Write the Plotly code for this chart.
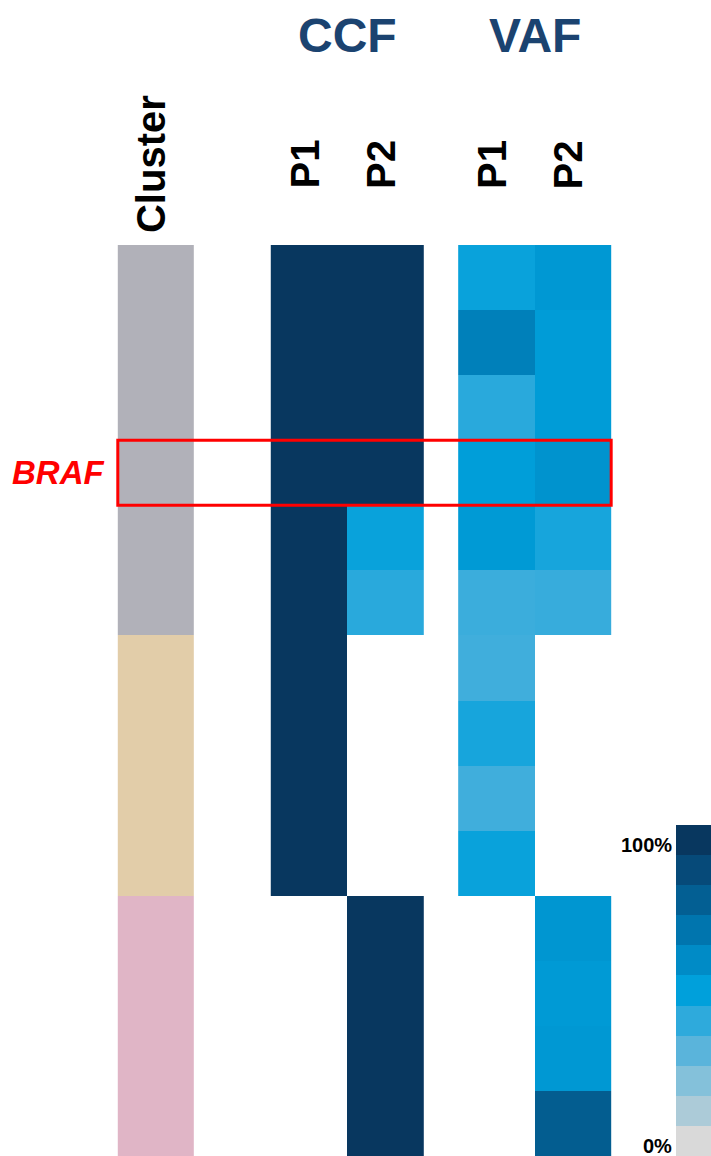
import plotly.graph_objects as go

# rows top to bottom, one per mutation; only BRAF is labelled in the figure
mutations = ["m1", "m2", "m3", "BRAF", "m5", "m6", "m7", "m8", "m9", "m10",
             "m11", "m12", "m13", "m14"]
highlight = "BRAF"

# cluster membership (0 = grey, 1 = tan, 2 = pink)
cluster = [0, 0, 0, 0, 0, 0, 1, 1, 1, 1, 2, 2, 2, 2]
cluster_colors = ["#b1b1b9", "#e2cda9", "#e0b5c6"]

samples = ["P1", "P2"]
ccf_p1 = [1.0, 1.0, 1.0, 1.0, 1.0, 1.0, 1.0, 1.0, 1.0, 1.0, None, None, None, None]
ccf_p2 = [1.0, 1.0, 1.0, 1.0, 0.48, 0.41, None, None, None, None, 1.0, 1.0, 1.0, 1.0]
vaf_p1 = [0.48, 0.65, 0.41, 0.51, 0.53, 0.37, 0.36, 0.45, 0.36, 0.48, None, None, None, None]
vaf_p2 = [0.54, 0.52, 0.52, 0.56, 0.45, 0.38, None, None, None, None, 0.55, 0.53, 0.54, 0.81]

# 0% .. 100% in 10% steps
scale_colors = ["#d9d9d9", "#accbd8", "#84c1da", "#5ab4db", "#2eaadc", "#00a0db",
                "#008bc6", "#0075ae", "#035f93", "#064a79", "#08375f"]
scale_steps = [i / 10 for i in range(11)]
scale_labels = {0.0: "0%", 1.0: "100%"}

blues = [[s, c] for s, c in zip(scale_steps, scale_colors)]
FONT = "Liberation Sans, Arial, sans-serif"

n = len(mutations)
y_edges = list(range(n + 1))
ccf_x = [1.5, 2.5, 3.5]
vaf_x = [3.95, 4.95, 5.95]

fig = go.Figure()

fig.add_trace(go.Heatmap(
    z=[[c] for c in cluster], x=[-0.5, 0.5], y=y_edges,
    colorscale=[[0, cluster_colors[0]], [0.5, cluster_colors[1]], [1, cluster_colors[2]]],
    zmin=0, zmax=2, showscale=False, hoverinfo="skip",
))
fig.add_trace(go.Heatmap(
    z=[[a, b] for a, b in zip(ccf_p1, ccf_p2)], x=ccf_x, y=y_edges,
    colorscale=blues, zmin=0, zmax=1, showscale=False, hoverinfo="skip",
))
fig.add_trace(go.Heatmap(
    z=[[a, b] for a, b in zip(vaf_p1, vaf_p2)], x=vaf_x, y=y_edges,
    colorscale=blues, zmin=0, zmax=1, showscale=False, hoverinfo="skip",
))

# stepped legend drawn as its own little heatmap
fig.add_trace(go.Heatmap(
    z=[[s] for s in scale_steps], x=[0], y=scale_steps,
    colorscale=blues, zmin=0, zmax=1, showscale=False, hoverinfo="skip",
    xaxis="x2", yaxis="y2",
))
for v, txt in scale_labels.items():
    fig.add_annotation(x=-0.5, y=v, xref="x2", yref="y2", text=txt,
                       xanchor="right", xshift=-2, yshift=-5, showarrow=False,
                       font=dict(family=FONT, size=20, color="black", weight="bold"))

row = mutations.index(highlight)
fig.add_shape(type="rect", xref="x", yref="y", x0=-0.5, x1=vaf_x[-1],
              y0=row, y1=row + 1, line=dict(color="#ff0000", width=3))
fig.add_annotation(x=-0.5, y=row + 0.5, xref="x", yref="y", text=highlight,
                   xanchor="right", xshift=-12, showarrow=False,
                   font=dict(family=FONT, size=33, color="#ff0000",
                             weight="bold", style="italic"))

# column headers
for label, xs in [("CCF", ccf_x), ("VAF", vaf_x)]:
    fig.add_annotation(x=xs[1], y=1, xref="x", yref="paper", text=label,
                       yanchor="middle", yshift=210, showarrow=False,
                       font=dict(family=FONT, size=48, color="#1b4370", weight="bold"))
    for i, s in enumerate(samples):
        fig.add_annotation(x=(xs[i] + xs[i + 1]) / 2, y=1, xref="x", yref="paper",
                           text=s, textangle=-90, yanchor="bottom", xshift=-5,
                           yshift=54, showarrow=False,
                           font=dict(family=FONT, size=40, color="black", weight="bold"))
fig.add_annotation(x=0, y=1, xref="x", yref="paper", text="Cluster", textangle=-90,
                   yanchor="bottom", xshift=-5, yshift=10, showarrow=False,
                   font=dict(family=FONT, size=40, color="black", weight="bold"))

fig.update_layout(
    width=711, height=1156,
    margin=dict(l=0, r=0, t=245, b=0),
    paper_bgcolor="white", plot_bgcolor="rgba(0,0,0,0)",
    showlegend=False,
    xaxis=dict(range=[-2.04, 7.255], visible=False, domain=[0, 1]),
    yaxis=dict(range=[n, 0], visible=False),
    xaxis2=dict(range=[-0.5, 0.5], visible=False, domain=[676 / 711, 1], anchor="y2"),
    yaxis2=dict(range=[-0.05, 1.05], domain=[0, 331 / 911], anchor="x2", visible=False),
)

fig.write_html("out.html", config={"displayModeBar": False},
               post_script="document.body.style.margin='0';"
               "document.body.style.overflow='hidden';")
